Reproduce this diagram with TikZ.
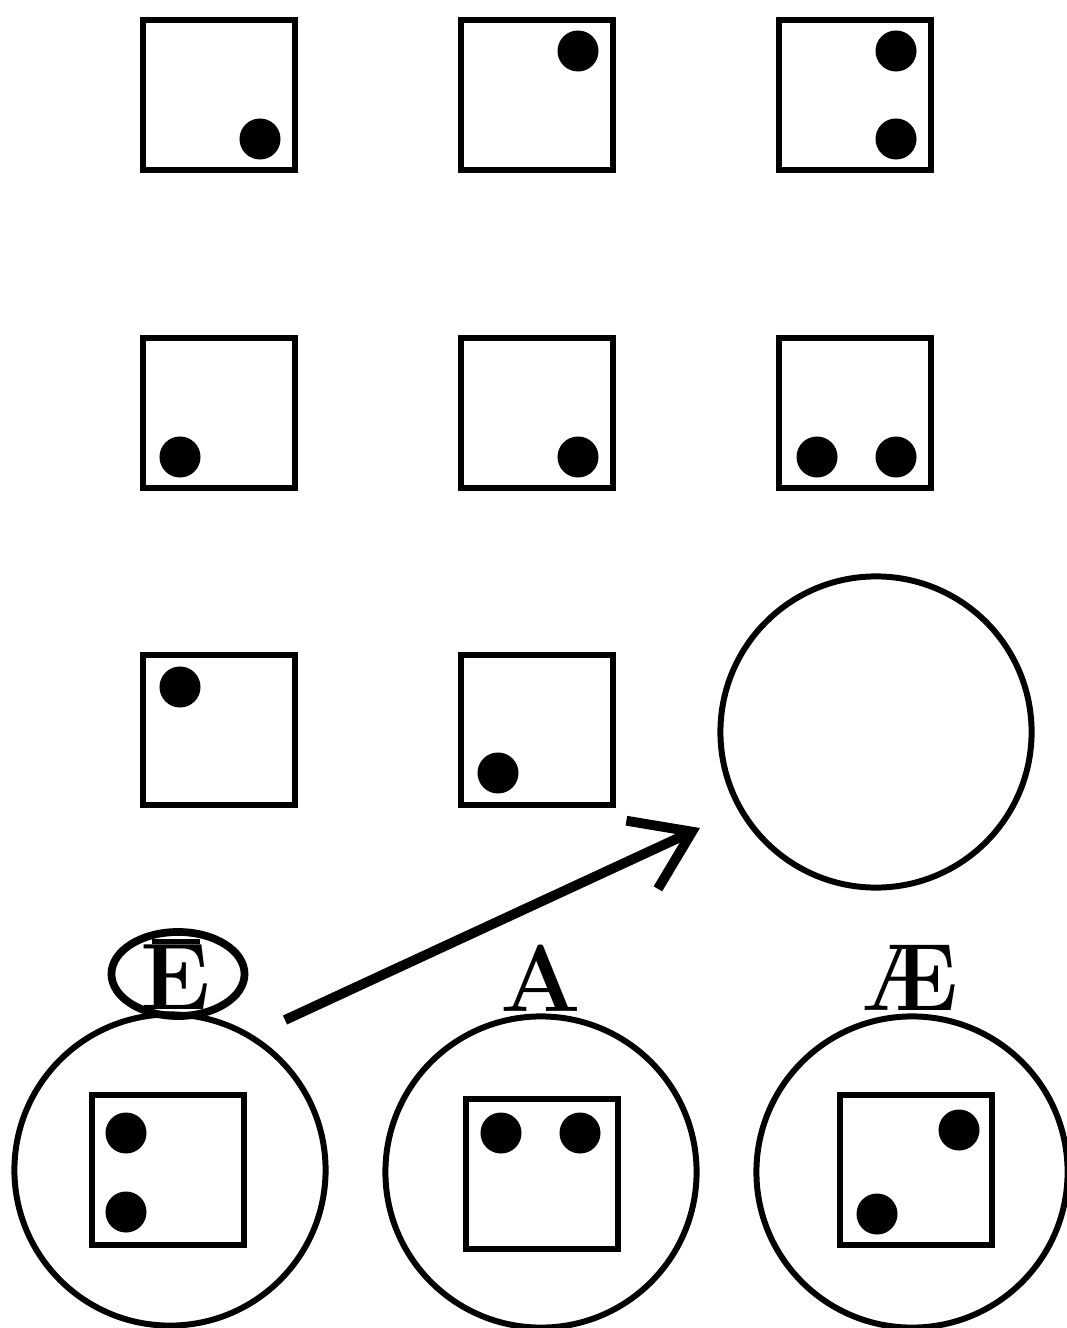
\documentclass[tikz,border=0pt]{standalone}
\usetikzlibrary{arrows.meta,shapes.geometric}
\begin{document}
\begin{tikzpicture}[x=0.01cm,y=-0.01cm,
  box/.style={draw, line width=1.7pt, minimum width=1.52cm, minimum height=1.50cm, inner sep=0pt},
  dot/.style={circle, fill=black, minimum size=0.41cm, inner sep=0pt},
  ring/.style={circle, draw, line width=1.7pt, minimum size=3.11cm, inner sep=0pt},
  lbl/.style={font=\fontsize{27}{30}\selectfont\bfseries, inner sep=0pt}]
\useasboundingbox (0,0) rectangle (1066,1328);
% row 1
\node[box] (s11) at (219,95) {};
\node[dot] (d11) at (260,139) {};
\node[box] (s12) at (537,95) {};
\node[dot] (d12) at (578,51) {};
\node[box] (s13) at (855,95) {};
\node[dot] (d13a) at (896,51) {};
\node[dot] (d13b) at (896,139) {};
% row 2
\node[box] (s21) at (219,413) {};
\node[dot] (d21) at (180,457) {};
\node[box] (s22) at (537,413) {};
\node[dot] (d22) at (578,457) {};
\node[box] (s23) at (855,413) {};
\node[dot] (d23a) at (817,457) {};
\node[dot] (d23b) at (896,457) {};
% row 3
\node[box] (s31) at (219,730) {};
\node[dot] (d31) at (180,687) {};
\node[box] (s32) at (537,730) {};
\node[dot] (d32) at (498,773) {};
\node[ring] (big) at (876,732) {};
% bottom
\node[ring] (c1) at (170,1170) {};
\node[box] (b1) at (168,1170) {};
\node[dot] (e1a) at (126,1133) {};
\node[dot] (e1b) at (126,1212) {};
\node[ring] (c2) at (541,1172) {};
\node[box] (b2) at (542,1174) {};
\node[dot] (e2a) at (501,1133) {};
\node[dot] (e2b) at (580,1133) {};
\node[ring] (c3) at (912,1172) {};
\node[box] (b3) at (916,1170) {};
\node[dot] (e3a) at (959,1130) {};
\node[dot] (e3b) at (877,1214) {};
% labels
\node[draw, ellipse, line width=2.2pt, minimum width=1.33cm, minimum height=0.84cm, inner sep=0pt] (el) at (178,974) {};
\node[lbl] (lE) at (176,974) {\makebox[0pt][l]{\hspace{0.12em}\raisebox{0.69em}{\rule{0.5em}{0.05em}}}E};
\node[lbl] (lA) at (541,978) {A};
\node[lbl] (lAE) at (910,978) {\AE};
% arrow
\coordinate (as) at (285,1020);
\coordinate (ae) at (700,828);
\draw[line width=2.8pt, -{Straight Barb[length=5.5mm, width=7.5mm, line width=2.8pt]}] (as) -- (ae);
\end{tikzpicture}
\end{document}
